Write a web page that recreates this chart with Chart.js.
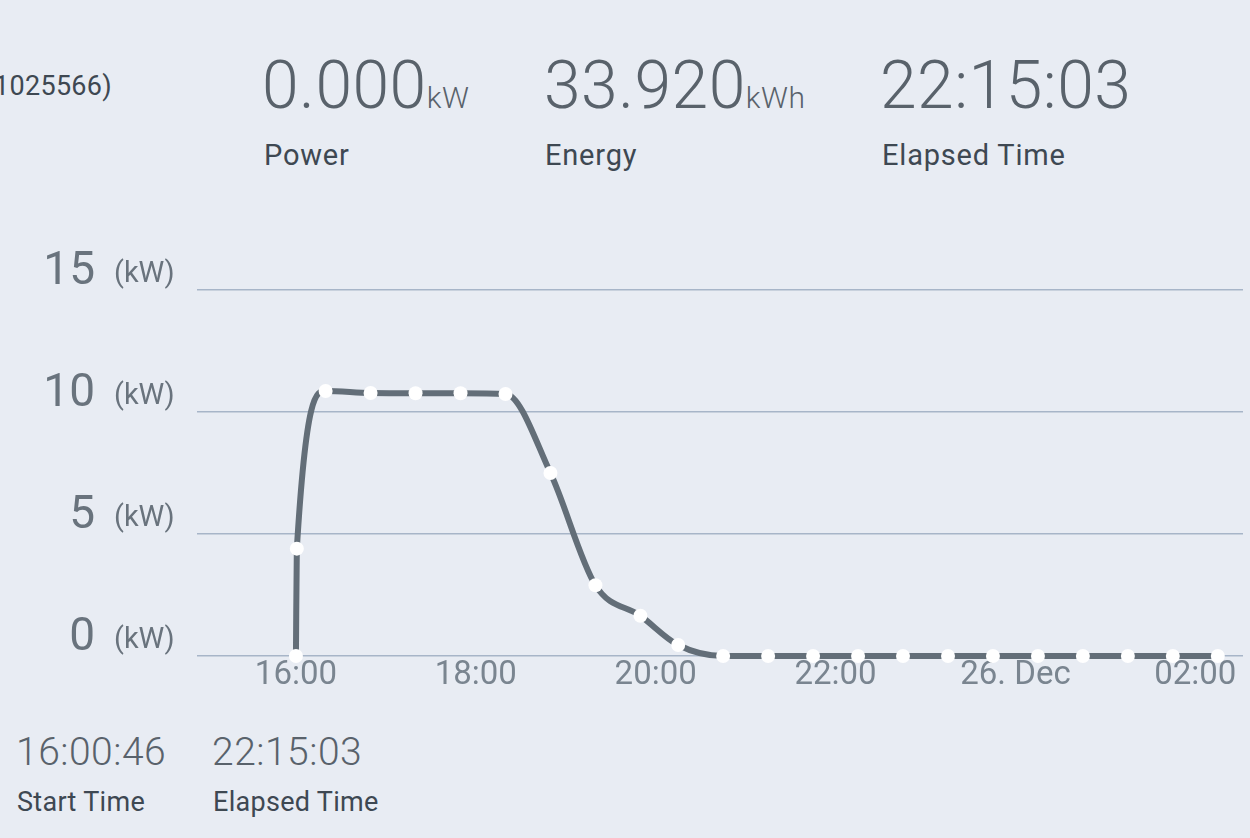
<!DOCTYPE html>
<html><head><meta charset="utf-8">
<script src="https://cdn.jsdelivr.net/npm/chart.js@4"></script>
<style>
body{margin:0;width:1250px;height:838px;background:#e8ecf3;font-family:Roboto,sans-serif;overflow:hidden;position:relative;color:#3e4852}
.t{position:absolute;white-space:nowrap}
.big{font-size:66px;font-weight:300;color:#59626b;line-height:1;letter-spacing:0.5px}
.big small{font-size:30px}
.lab{font-size:29px;color:#3e4852;letter-spacing:0.8px}
.mid{font-size:39px;font-weight:300;color:#59626b;letter-spacing:0.5px}
.sl{font-size:27px;color:#3e4852;letter-spacing:0.3px}
#wrap{position:absolute;left:0;top:240px;width:1250px;height:470px}
</style></head><body>
<div class="t sl" style="left:-6px;top:70px">1025566)</div>
<div class="t big" style="left:262px;top:53px">0.000<small>kW</small></div>
<div class="t lab" style="left:264px;top:138px">Power</div>
<div class="t big" style="left:544px;top:53px">33.920<small>kWh</small></div>
<div class="t lab" style="left:545px;top:138px">Energy</div>
<div class="t big" style="left:880px;top:53px">22:15:03</div>
<div class="t lab" style="left:882px;top:138px">Elapsed Time</div>
<div class="t mid" style="left:16px;top:729px">16:00:46</div>
<div class="t sl" style="left:17px;top:786px">Start Time</div>
<div class="t mid" style="left:212px;top:729px">22:15:03</div>
<div class="t sl" style="left:213px;top:786px">Elapsed Time</div>
<div id="wrap"><canvas id="c"></canvas></div>
<script>
// hours since midnight of 25 Dec
const hours = [16.0, 16.01, 16.33, 16.83, 17.33, 17.83, 18.33, 18.83, 19.33, 19.83, 20.25, 20.75,
  21.25, 21.75, 22.25, 22.75, 23.25, 23.75, 24.25, 24.75, 25.25, 25.75, 26.25];
const power = [0, 4.4, 10.86, 10.78, 10.77, 10.77, 10.74, 7.5, 2.9, 1.65, 0.45, 0,
  0, 0, 0, 0, 0, 0, 0, 0, 0, 0, 0];
const yTicks = [0, 5, 10, 15];
const xTickLabels = {16: '16:00', 18: '18:00', 20: '20:00', 22: '22:00', 24: '26. Dec', 26: '02:00'};

const yLabels = {
  id: 'yLabels',
  afterDraw(chart) {
    const c = chart.ctx, y = chart.scales.y;
    c.save();
    c.fillStyle = '#69737d';
    c.textBaseline = 'middle';
    yTicks.forEach(v => {
      const py = y.getPixelForValue(v);
      c.font = '46px Roboto';
      c.textAlign = 'right';
      c.fillText(String(v), 95, py - 18);
      c.font = '29px Roboto';
      c.textAlign = 'left';
      c.fillText('(kW)', 114, py - 15);
    });
    c.restore();
  }
};

new Chart(document.getElementById('c'), {
  type: 'line',
  data: {
    datasets: [{
      data: hours.map((h, i) => ({x: h, y: power[i]})),
      borderColor: '#636e78',
      borderWidth: 6,
      cubicInterpolationMode: 'monotone',
      pointRadius: 7,
      pointBackgroundColor: '#ffffff',
      pointBorderWidth: 0,
      clip: false
    }]
  },
  options: {
    responsive: true,
    maintainAspectRatio: false,
    animation: false,
    layout: {padding: {left: 197, right: 0, top: 50, bottom: 14}},
    plugins: {legend: {display: false}, tooltip: {enabled: false}},
    scales: {
      x: {
        type: 'linear', min: 14.9, max: 26.53,
        grid: {display: false},
        border: {display: false},
        afterBuildTicks: s => { s.ticks = Object.keys(xTickLabels).map(v => ({value: +v})); },
        afterFit: s => { s.height = 40; },
        ticks: {
          callback: v => xTickLabels[v] || '',
          font: {family: 'Roboto', size: 33}, color: '#7a8590', padding: -8, maxRotation: 0, autoSkip: false
        }
      },
      y: {
        min: 0, max: 15,
        afterBuildTicks: s => { s.ticks = yTicks.map(v => ({value: v})); },
        grid: {color: '#a7b5c8', lineWidth: 1.5, drawTicks: false},
        border: {display: false},
        ticks: {display: false}
      }
    }
  },
  plugins: [yLabels]
});
</script>
</body></html>
